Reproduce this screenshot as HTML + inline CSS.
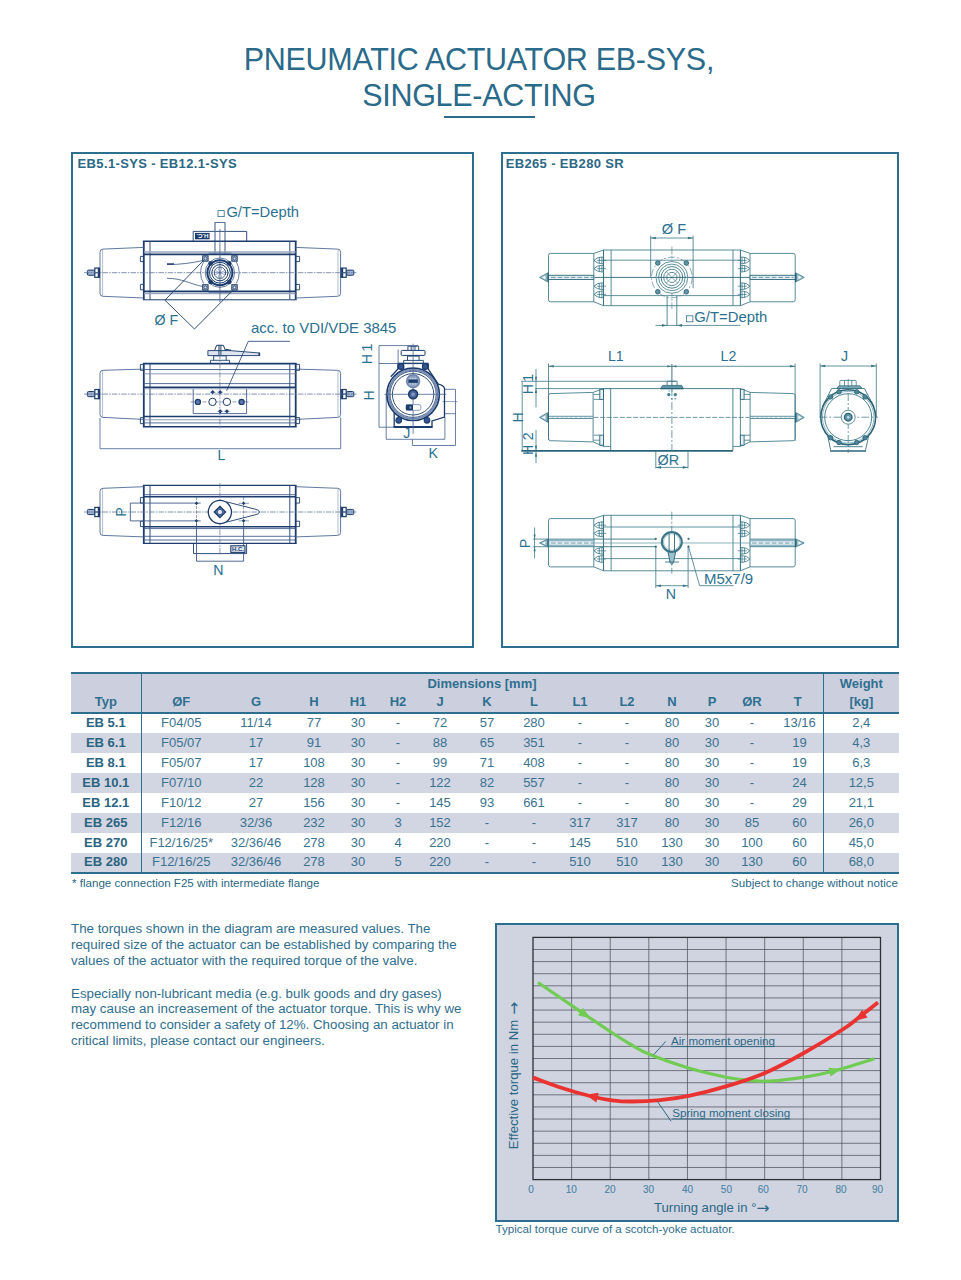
<!DOCTYPE html>
<html lang="en"><head><meta charset="utf-8"><title>Pneumatic actuator EB-SYS, single-acting</title>
<style>
*{box-sizing:border-box;margin:0;padding:0}
html,body{width:961px;height:1280px;background:#fff;overflow:hidden}
body{position:relative;font-family:"Liberation Sans",Arial,sans-serif;color:#2b6b8a}
.abs{position:absolute}
h1{position:absolute;left:-1.6px;top:40.5px;width:961px;text-align:center;font-weight:400;font-size:30.5px;line-height:36.5px;color:#2a6a8a;letter-spacing:-0.29px}
.rule{position:absolute;left:444px;top:116px;width:91px;height:2px;background:#2a6a8a}
.frame{position:absolute;border:2px solid #2d6f8f;top:152px;height:496px}
.frame .lbl{position:absolute;left:4.6px;top:1.5px;font-weight:700;font-size:13px;letter-spacing:.35px;line-height:15px;color:#2b6886;white-space:nowrap}
.frame svg{position:absolute;left:-2px;top:-2px}
table{position:absolute;left:71px;top:672px;width:828px;border-collapse:collapse;table-layout:fixed;font-size:13px;color:#3a7391}
table tr{height:20px}
table td,table th{line-height:16px;text-align:center;padding:0 0 .6px 0;white-space:nowrap;font-weight:400;overflow:visible;vertical-align:middle}
thead th{font-weight:700;color:#2f6f90;background:#ccd0de}
thead tr.r1 th{border-top:2px solid #2d6f8f;padding:0}
thead tr.r2 th{border-bottom:2px solid #2d6f8f;padding:0 0 .4px 0}
tbody tr:nth-child(even) td{background:#d2d5e2}
table tr>:nth-child(15){padding-left:3.6px}
tbody td:first-child{font-weight:700;color:#2b6481}
tbody tr:last-child td{border-bottom:2px solid #2d6f8f}
.vl{border-right:1.6px solid #2d6f8f}
.vr{border-left:1.6px solid #2d6f8f}
.note{position:absolute;font-size:11.6px;line-height:13px;top:875.8px;white-space:nowrap;color:#2b6886}
.para{position:absolute;left:71px;width:420px;font-size:13.325px;line-height:16px;color:#2f6e8d;white-space:nowrap}
.chart{position:absolute;left:495px;top:923px;width:404px;height:298.5px;border:2px solid #2d6f8f;background:#d0d4e1}
.chart svg{position:absolute;left:-2px;top:-2px}
.cap{position:absolute;left:495.5px;top:1222.2px;font-size:11.6px;line-height:13px;white-space:nowrap;color:#2f6e8d}
</style></head><body>
<h1>PNEUMATIC ACTUATOR EB-SYS,<br>SINGLE-ACTING</h1><div class="rule"></div>
<div class="frame" style="left:71px;width:403px"><div class="lbl">EB5.1-SYS - EB12.1-SYS</div>
<svg width="403" height="496" viewBox="71 152 403 496" font-family="Liberation Sans, Arial, sans-serif" fill="none" stroke-linecap="butt">
<path d="M193.2 241V231.4H246.7V241" stroke="#1b3c6c" stroke-width="0.9"/>
<path d="M215 253.5V222.5H225V253.5" stroke="#5b7299" stroke-width="1.2"/>
<rect x="195" y="232.9" width="14.6" height="6.4" fill="#1b3c6c" stroke="none"/>
<text transform="translate(208.6 233.9) rotate(180)" font-size="5.6" font-weight="700" fill="#fff" stroke="none" textLength="12.4" lengthAdjust="spacingAndGlyphs">H.C.</text>
<path d="M142.9 241.3H296.6" stroke="#1b3c6c" stroke-width="1.5"/>
<path d="M142.9 299.8H296.6" stroke="#1b3c6c" stroke-width="1.0"/>
<path d="M143.8 241.3V299.8M295.7 241.3V299.8" stroke="#1b3c6c" stroke-width="1.8"/>
<path d="M150 241.3V299.8M289.8 241.3V299.8" stroke="#2f4e84" stroke-width="1.0"/>
<path d="M143.8 247.4L103.0 249.1Q100 249.1 100 252.1V293.3Q100 296.3 103.0 296.3L143.8 298.0" stroke="#43608f" stroke-width="0.85"/>
<path d="M102.6 249.7V295.7" stroke="#7e90ad" stroke-width="0.6"/>
<path d="M295.7 247.4L337.6 249.1Q340.6 249.1 340.6 252.1V293.3Q340.6 296.3 337.6 296.3L295.7 298.0" stroke="#43608f" stroke-width="0.85"/>
<path d="M338 249.7V295.7" stroke="#7e90ad" stroke-width="0.6"/>
<path d="M143.8 256.4H140.4V261.6H143.8M295.7 256.4H299.6V261.6H295.7" stroke="#1b3c6c" stroke-width="0.9"/>
<path d="M143.8 284.4H140.4V289.8H143.8M295.7 284.4H299.6V289.8H295.7" stroke="#1b3c6c" stroke-width="0.9"/>
<rect x="87.4" y="270.1" width="7.2" height="5.2" rx="1.2" fill="#9db0cf" stroke="#1b3c6c" stroke-width="1"/>
<rect x="94.8" y="268.1" width="3.6" height="9.2" fill="#fff" stroke="#1b3c6c" stroke-width="1.2"/>
<path d="M94.8 272.7h3.6" stroke="#1b3c6c" stroke-width="1.1"/>
<path d="M99.3 267.5V277.9" stroke="#1b3c6c" stroke-width="1.5"/>
<rect x="346.6" y="270.1" width="7.2" height="5.2" rx="1.2" fill="#9db0cf" stroke="#1b3c6c" stroke-width="1"/>
<rect x="342.6" y="268.1" width="3.6" height="9.2" fill="#fff" stroke="#1b3c6c" stroke-width="1.2"/>
<path d="M342.6 272.7h3.6" stroke="#1b3c6c" stroke-width="1.1"/>
<path d="M341.2 267.5V277.9" stroke="#1b3c6c" stroke-width="1.5"/>
<path d="M84 272.7H356.5" stroke="#5d7094" stroke-width="0.75" stroke-dasharray="5.5 1.1 1.6 1.1"/>
<path d="M144 251.9H295.5M144 293.4H295.5" stroke="#9ba6bd" stroke-width="1.5"/>
<path d="M144 254.4H295.5M144 291.4H295.5" stroke="#1b3c6c" stroke-width="1.6"/>
<path d="M219.9 229V302" stroke="#43608f" stroke-width="0.8"/>
<path d="M208.5 253.2H231.3M208.5 292.3H231.3" stroke="#43608f" stroke-width="0.8"/>
<path d="M203.6 261.8A21 21 0 0 0 203.6 283.6M236.2 261.8A21 21 0 0 1 236.2 283.6" stroke="#43608f" stroke-width="0.8"/>
<rect x="202.8" y="255.9" width="5.2" height="5.2" stroke="#1b3c6c" stroke-width="1.2" fill="#fff"/>
<circle cx="205.4" cy="258.5" r="1.5" stroke="#1b3c6c" stroke-width="0.9" fill="#dbe2ef"/>
<rect x="231.9" y="255.9" width="5.2" height="5.2" stroke="#1b3c6c" stroke-width="1.2" fill="#fff"/>
<circle cx="234.5" cy="258.5" r="1.5" stroke="#1b3c6c" stroke-width="0.9" fill="#dbe2ef"/>
<rect x="202.8" y="284.8" width="5.2" height="5.2" stroke="#1b3c6c" stroke-width="1.2" fill="#fff"/>
<circle cx="205.4" cy="287.4" r="1.5" stroke="#1b3c6c" stroke-width="0.9" fill="#dbe2ef"/>
<rect x="231.9" y="284.8" width="5.2" height="5.2" stroke="#1b3c6c" stroke-width="1.2" fill="#fff"/>
<circle cx="234.5" cy="287.4" r="1.5" stroke="#1b3c6c" stroke-width="0.9" fill="#dbe2ef"/>
<circle cx="219.9" cy="272.7" r="14.7" stroke="#43608f" stroke-width="0.8"/>
<circle cx="219.9" cy="272.7" r="12.5" stroke="#1b3c6c" stroke-width="2"/>
<circle cx="219.9" cy="272.7" r="10.4" stroke="#1b3c6c" stroke-width="1"/>
<circle cx="219.9" cy="272.7" r="8.1" stroke="#1b3c6c" stroke-width="1"/>
<polygon points="225.4,275.0 222.2,278.2 217.6,278.2 214.4,275.0 214.4,270.4 217.6,267.2 222.2,267.2 225.4,270.4" stroke="#1b3c6c" stroke-width="0.8"/>
<path d="M214.8 270.6L225.0 274.8M217.8 267.6L222.0 277.8M222.0 267.6L217.8 277.8M225.0 270.6L214.8 274.8" stroke="#43608f" stroke-width="0.5"/>
<circle cx="229.2" cy="282.0" r="2.3" fill="#1b3c6c" stroke="none"/>
<circle cx="210.6" cy="282.0" r="2.3" fill="#1b3c6c" stroke="none"/>
<circle cx="210.6" cy="263.4" r="2.3" fill="#1b3c6c" stroke="none"/>
<circle cx="229.2" cy="263.4" r="2.3" fill="#1b3c6c" stroke="none"/>
<path d="M203.4 260.6L164.9 300.2L194.5 329L232.5 290.6" stroke="#1b3c6c" stroke-width="0.9"/>
<path d="M167 264.6C180 264.6 192 263 203 260.5M167 278.3C182 278.3 190 284 203 286.6" stroke="#1b3c6c" stroke-width="0.7"/>
<path d="M167 264H174" stroke="#1b3c6c" stroke-width="1.4"/>
<path d="M210.4 363.4V360.3H229.6V363.4M213.7 360.3V355.4H226.2V360.3" stroke="#1b3c6c" stroke-width="0.9"/>
<path d="M214 355.6H226" stroke="#1b3c6c" stroke-width="1.3"/>
<path d="M207.9 350.6H230L259.6 353V355.6H207.9Z" fill="#dfe5f0" stroke="#1b3c6c" stroke-width="0.9"/>
<path d="M259.3 352.6V356" stroke="#1b3c6c" stroke-width="1.6"/>
<path d="M214.6 350.5L216.6 345.3H223.4L225.4 350.5" stroke="#1b3c6c" stroke-width="1.0"/>
<path d="M218.9 345V355M220.9 345V355" stroke="#1b3c6c" stroke-width="0.9"/>
<path d="M225.4 349.4L231 350.4" stroke="#1b3c6c" stroke-width="1.4"/>
<path d="M142.9 363.6H296.6" stroke="#1b3c6c" stroke-width="1.6"/>
<path d="M142.9 426.8H296.6" stroke="#1b3c6c" stroke-width="1.6"/>
<path d="M143.8 363.6V426.8M295.7 363.6V426.8" stroke="#1b3c6c" stroke-width="1.8"/>
<path d="M150 363.6V426.8M289.8 363.6V426.8" stroke="#2f4e84" stroke-width="1.0"/>
<path d="M143.8 369.1L103.0 370.3Q100 370.3 100 373.3V414.4Q100 417.4 103.0 417.4L143.8 419.4" stroke="#43608f" stroke-width="0.85"/>
<path d="M102.6 370.9V416.8" stroke="#7e90ad" stroke-width="0.6"/>
<path d="M295.7 369.1L337.6 370.3Q340.6 370.3 340.6 373.3V414.4Q340.6 417.4 337.6 417.4L295.7 419.4" stroke="#43608f" stroke-width="0.85"/>
<path d="M338 370.9V416.8" stroke="#7e90ad" stroke-width="0.6"/>
<path d="M143.8 364.4H140.4V370.3H143.8M295.7 364.4H299.6V370.3H295.7" stroke="#1b3c6c" stroke-width="0.9"/>
<path d="M143.8 417.6H140.4V423.6H143.8M295.7 417.6H299.6V423.6H295.7" stroke="#1b3c6c" stroke-width="0.9"/>
<rect x="87.4" y="391.5" width="7.2" height="5.2" rx="1.2" fill="#9db0cf" stroke="#1b3c6c" stroke-width="1"/>
<rect x="94.8" y="389.5" width="3.6" height="9.2" fill="#fff" stroke="#1b3c6c" stroke-width="1.2"/>
<path d="M94.8 394.1h3.6" stroke="#1b3c6c" stroke-width="1.1"/>
<path d="M99.3 388.9V399.3" stroke="#1b3c6c" stroke-width="1.5"/>
<rect x="346.6" y="391.5" width="7.2" height="5.2" rx="1.2" fill="#9db0cf" stroke="#1b3c6c" stroke-width="1"/>
<rect x="342.6" y="389.5" width="3.6" height="9.2" fill="#fff" stroke="#1b3c6c" stroke-width="1.2"/>
<path d="M342.6 394.1h3.6" stroke="#1b3c6c" stroke-width="1.1"/>
<path d="M341.2 388.9V399.3" stroke="#1b3c6c" stroke-width="1.5"/>
<path d="M84 394.1H356.5" stroke="#5d7094" stroke-width="0.75" stroke-dasharray="5.5 1.1 1.6 1.1"/>
<path d="M144 369.5H295.5M144 383.6H295.5M144 422.9H295.5" stroke="#43608f" stroke-width="0.9"/>
<path d="M144 373.8H295.5M144 419.8H295.5" stroke="#7e90ad" stroke-width="0.9"/>
<path d="M144 388.9H295.5" stroke="#9ba6bd" stroke-width="0.7"/>
<path d="M144 387.3H295.5" stroke="#1b3c6c" stroke-width="1.8"/>
<path d="M144 416.6H295.5" stroke="#1b3c6c" stroke-width="1.5"/>
<path d="M219.9 344.5V428.5" stroke="#5d7094" stroke-width="0.7" stroke-dasharray="5.5 1.1 1.6 1.1"/>
<path d="M193.2 389.1V413.6H246.6V389.1" stroke="#43608f" stroke-width="0.9"/>
<path d="M190.5 401.9H250" stroke="#43608f" stroke-width="0.6" stroke-dasharray="4 2"/>
<circle cx="197.9" cy="401.9" r="2.6" fill="#5d78ad" stroke="#1b3c6c" stroke-width="1.2"/>
<circle cx="241.6" cy="401.9" r="2.6" fill="#5d78ad" stroke="#1b3c6c" stroke-width="1.2"/>
<circle cx="212.5" cy="401.9" r="3.7" fill="#fff" stroke="#1b3c6c" stroke-width="1"/>
<circle cx="226.9" cy="401.9" r="3.7" fill="#fff" stroke="#1b3c6c" stroke-width="1"/>
<path d="M212.7 390.1l2.1 2.1l-2.1 2.1l-2.1 -2.1Z" fill="#1b3c6c" stroke="none"/>
<path d="M209.7 392.2h6" stroke="#43608f" stroke-width="0.5"/>
<path d="M220.2 390.1l2.1 2.1l-2.1 2.1l-2.1 -2.1Z" fill="#1b3c6c" stroke="none"/>
<path d="M217.2 392.2h6" stroke="#43608f" stroke-width="0.5"/>
<path d="M220.2 409.2l2.1 2.1l-2.1 2.1l-2.1 -2.1Z" fill="#1b3c6c" stroke="none"/>
<path d="M217.2 411.3h6" stroke="#43608f" stroke-width="0.5"/>
<path d="M226.9 409.2l2.1 2.1l-2.1 2.1l-2.1 -2.1Z" fill="#1b3c6c" stroke="none"/>
<path d="M223.9 411.3h6" stroke="#43608f" stroke-width="0.5"/>
<path d="M226.6 390.8L248.3 341.3H289.9" stroke="#1b3c6c" stroke-width="0.8"/>
<path d="M100 418V448.7H340.7V417.5" stroke="#43608f" stroke-width="0.8"/>
<path d="M193.5 543.3V553.6H246.6V543.3" stroke="#1b3c6c" stroke-width="0.9"/>
<path d="M142.9 485.4H296.6" stroke="#1b3c6c" stroke-width="1.2"/>
<path d="M142.9 543.4H296.6" stroke="#1b3c6c" stroke-width="1.3"/>
<path d="M143.8 485.4V543.4M295.7 485.4V543.4" stroke="#1b3c6c" stroke-width="1.8"/>
<path d="M150 485.4V543.4M289.8 485.4V543.4" stroke="#2f4e84" stroke-width="1.0"/>
<path d="M143.8 486.7L103.0 488.3Q100 488.3 100 491.3V532.4Q100 535.4 103.0 535.4L143.8 536.9" stroke="#43608f" stroke-width="0.85"/>
<path d="M102.6 488.9V534.8" stroke="#7e90ad" stroke-width="0.6"/>
<path d="M295.7 486.7L337.6 488.3Q340.6 488.3 340.6 491.3V532.4Q340.6 535.4 337.6 535.4L295.7 536.9" stroke="#43608f" stroke-width="0.85"/>
<path d="M338 488.9V534.8" stroke="#7e90ad" stroke-width="0.6"/>
<path d="M143.8 497.6H140.4V503.1H143.8M295.7 497.6H299.6V503.1H295.7" stroke="#1b3c6c" stroke-width="0.9"/>
<path d="M143.8 521.2H140.4V526.6H143.8M295.7 521.2H299.6V526.6H295.7" stroke="#1b3c6c" stroke-width="0.9"/>
<rect x="87.4" y="509.4" width="7.2" height="5.2" rx="1.2" fill="#9db0cf" stroke="#1b3c6c" stroke-width="1"/>
<rect x="94.8" y="507.4" width="3.6" height="9.2" fill="#fff" stroke="#1b3c6c" stroke-width="1.2"/>
<path d="M94.8 512.0h3.6" stroke="#1b3c6c" stroke-width="1.1"/>
<path d="M99.3 506.8V517.2" stroke="#1b3c6c" stroke-width="1.5"/>
<rect x="346.6" y="509.4" width="7.2" height="5.2" rx="1.2" fill="#9db0cf" stroke="#1b3c6c" stroke-width="1"/>
<rect x="342.6" y="507.4" width="3.6" height="9.2" fill="#fff" stroke="#1b3c6c" stroke-width="1.2"/>
<path d="M342.6 512.0h3.6" stroke="#1b3c6c" stroke-width="1.1"/>
<path d="M341.2 506.8V517.2" stroke="#1b3c6c" stroke-width="1.5"/>
<path d="M84 512.0H356.5" stroke="#5d7094" stroke-width="0.75" stroke-dasharray="5.5 1.1 1.6 1.1"/>
<path d="M144 494.7H295.5M144 528.6H295.5M144 536.3H295.5M144 540H295.5" stroke="#43608f" stroke-width="0.9"/>
<path d="M144 496.7H295.5M144 526.7H295.5" stroke="#1b3c6c" stroke-width="1.6"/>
<path d="M219.9 483V555" stroke="#5d7094" stroke-width="0.7" stroke-dasharray="5.5 1.1 1.6 1.1"/>
<path d="M200.7 503.1H130.3V520.9H200.7" stroke="#3f5a88" stroke-width="0.9"/>
<path d="M243.6 503.3H249M243.6 520.8H249M238.5 503.3H243M238.5 520.8H243" stroke="#43608f" stroke-width="0.6"/>
<path d="M196.5 497V523M243.6 497V523" stroke="#43608f" stroke-width="0.6" stroke-dasharray="3 1.5"/>
<path d="M196.5 523V561.2H243.6V523" stroke="#3f5a88" stroke-width="0.9"/>
<path d="M196.5 501.4l1.7 1.9l-1.7 1.9l-1.7 -1.9Z" fill="#1b3c6c" stroke="none"/>
<path d="M196.5 518.9l1.7 1.9l-1.7 1.9l-1.7 -1.9Z" fill="#1b3c6c" stroke="none"/>
<path d="M243.6 501.4l1.7 1.9l-1.7 1.9l-1.7 -1.9Z" fill="#1b3c6c" stroke="none"/>
<path d="M243.6 518.9l1.7 1.9l-1.7 1.9l-1.7 -1.9Z" fill="#1b3c6c" stroke="none"/>
<path d="M226.4 501.8L254.9 509.1Q259.6 510 259.6 512Q259.6 514 254.9 514.9L226.4 522.2" stroke="#1b3c6c" stroke-width="0.9"/>
<circle cx="219.9" cy="512" r="11.6" fill="#fff" stroke="#1b3c6c" stroke-width="1.3"/>
<path d="M219.9 506.3L225.6 512L219.9 517.7L214.2 512Z" fill="#5d78ad" stroke="#1b3c6c" stroke-width="1.3"/>
<circle cx="219.9" cy="512" r="2.7" fill="#dfe6f2" stroke="#1b3c6c" stroke-width="0.8"/>
<rect x="230.8" y="545.8" width="14.2" height="6.6" fill="#dfe5f0" stroke="#1b3c6c" stroke-width="1.1"/>
<text x="232" y="551.4" font-size="5.6" font-weight="700" fill="#1b3c6c" stroke="none" textLength="11.8" lengthAdjust="spacingAndGlyphs">H.C.</text>
<path d="M379 345.6V427.2M379 345.6H418M379 363.5H400M379 427.2H395M398.1 349.4V363.5" stroke="#43608f" stroke-width="0.8"/>
<path d="M386.2 394.3V439.3H444.9V417M412.4 439.5V445.5H455.5V389.3H444.9M444.9 413.7H455.5" stroke="#43608f" stroke-width="0.8"/>
<path d="M442.5 401.6H457.5" stroke="#43608f" stroke-width="0.6"/>
<path d="M403.7 363.3V360.4H423.3V363.3M407.5 360.4V355.6H419.1V360.4" stroke="#1b3c6c" stroke-width="0.9"/>
<path d="M407.8 355.9H418.8" stroke="#1b3c6c" stroke-width="1.3"/>
<rect x="401.2" y="350.4" width="23.8" height="5" rx="1" stroke="#1b3c6c" stroke-width="1" fill="#fff"/>
<path d="M407.9 350.4V346.2H411.2V350.4M415 350.4V346.2H418.7V350.4M411.2 346.4H415" stroke="#1b3c6c" stroke-width="0.9"/>
<path d="M397.9 363.4H428.3" stroke="#1b3c6c" stroke-width="1.4"/>
<path d="M397.9 363.4L397.9 369L390.8 376.8M428.3 363.4V369L438.3 384.1Q443.6 385.2 444.5 388.4V417L432 421V427M394.2 413V427" stroke="#1b3c6c" stroke-width="1.3"/>
<path d="M393.6 427H432.6" stroke="#1b3c6c" stroke-width="1.8"/>
<path d="M397.9 363.6H404.2V369.2H397.9ZM422.4 363.6H428.3V369.2H422.4Z" fill="#2c4c84" stroke="none"/>
<circle cx="413.1" cy="394.3" r="26.2" stroke="#1b3c6c" stroke-width="1.7" fill="#fff"/>
<circle cx="413.1" cy="394.3" r="24.5" stroke="#748bb3" stroke-width="1.9"/>
<circle cx="413.1" cy="394.3" r="23.1" stroke="#1b3c6c" stroke-width="0.8"/>
<circle cx="413.1" cy="394.3" r="20.7" stroke="#1b3c6c" stroke-width="0.9"/>
<circle cx="401.0" cy="366.6" r="2.8" fill="#34558f" stroke="#1b3c6c" stroke-width="1.1"/>
<circle cx="425.2" cy="366.6" r="2.8" fill="#34558f" stroke="#1b3c6c" stroke-width="1.1"/>
<circle cx="398.7" cy="420.3" r="2.8" fill="#34558f" stroke="#1b3c6c" stroke-width="1.1"/>
<circle cx="427.0" cy="420.3" r="2.8" fill="#34558f" stroke="#1b3c6c" stroke-width="1.1"/>
<path d="M413.1 343.7V433.7" stroke="#4a6491" stroke-width="0.8"/>
<path d="M384.3 394.3H446.2" stroke="#4a6491" stroke-width="0.8"/>
<circle cx="413.1" cy="381.2" r="6.5" fill="#8ea1c4" stroke="#6d84ad" stroke-width="1.4"/>
<path d="M408.4 379.6h9.4v3.2h-9.4Z" fill="#1b3c6c" stroke="none"/>
<path d="M409.4 378.4h7.4M409.4 384h7.4" stroke="#e8edf6" stroke-width="0.8" stroke-dasharray="1.6 1"/>
<circle cx="413.1" cy="394.3" r="4.4" fill="#4a6598" stroke="#1b3c6c" stroke-width="1.6"/>
<circle cx="413.1" cy="394.3" r="1.9" fill="#8196bd" stroke="none"/>
<rect x="406" y="404.6" width="14.8" height="5.7" rx="1.8" fill="#fff" stroke="#7d92b8" stroke-width="0.9"/>
<rect x="406" y="404.6" width="7" height="5.7" fill="#1b3c6c" stroke="none"/>
<rect x="409.4" y="406.4" width="2" height="2.2" fill="#7d92b8" stroke="none"/>
<g fill="#2b7090" stroke="none" font-size="14.2">
<rect x="218" y="210.6" width="6.2" height="6" fill="none" stroke="#2b7090" stroke-width="0.8"/>
<text x="226.4" y="216.6" textLength="72.6" lengthAdjust="spacingAndGlyphs">G/T=Depth</text>
<text x="154.6" y="325.2" textLength="23.6" lengthAdjust="spacingAndGlyphs">Ø F</text>
<text x="251" y="332.9" textLength="145.4" lengthAdjust="spacingAndGlyphs">acc. to VDI/VDE 3845</text>
<text x="217.4" y="460.2">L</text>
<text x="213.2" y="575.2">N</text>
<text transform="translate(125.8 516.7) rotate(-90)">P</text>
<text transform="translate(371.9 364.2) rotate(-90)" textLength="20.6" lengthAdjust="spacing">H 1</text>
<text transform="translate(373.7 400.6) rotate(-90)">H</text>
<text x="403.2" y="438">J</text>
<text x="428.6" y="458">K</text>
</g>
</svg>
</div>
<div class="frame" style="left:500.5px;width:398.5px"><div class="lbl" style="left:3.2px">EB265 - EB280 SR</div>
<svg width="398.5" height="496" viewBox="500.5 152 398.5 496" font-family="Liberation Sans, Arial, sans-serif" fill="none" stroke-linecap="butt" stroke-linejoin="miter">
<path d="M593.3 253.4H550.0Q548 253.4 548 255.4V299.8Q548 301.8 550.0 301.8H593.3Z" stroke="#3a7688" stroke-width="0.85"/>
<path d="M749.5 253.4H792.7Q794.7 253.4 794.7 255.4V299.8Q794.7 301.8 792.7 301.8H749.5Z" stroke="#3a7688" stroke-width="0.85"/>
<path d="M593.3 253.4L603 250.0H739.9L749.5 253.4M593.3 301.8L603 305.7H739.9L749.5 301.8" stroke="#3a7688" stroke-width="0.85"/>
<path d="M603 250.0V305.7M739.9 250.0V305.7" stroke="#3a7688" stroke-width="1.1"/>
<path d="M610.6 250.0V305.7M732.5 250.0V305.7" stroke="#3a7688" stroke-width="0.85"/>
<path d="M603 260.2H739.9" stroke="#3a7688" stroke-width="0.8"/>
<path d="M603 295.6H739.9" stroke="#3a7688" stroke-width="0.8"/>
<path d="M603.0 257.1H600.8Q596.5 257.3 593.5 260.4Q596.5 263.5 600.8 263.7H603.0" stroke="#3a7688" stroke-width="0.85"/>
<path d="M601.4 257.1V263.7M598.8 257.5V263.3" stroke="#3a7688" stroke-width="0.8"/>
<path d="M596.6 260.4H605.6" stroke="#3a7688" stroke-width="0.7"/>
<path d="M739.9 257.1H742.1Q746.4 257.3 749.4 260.4Q746.4 263.5 742.1 263.7H739.9" stroke="#3a7688" stroke-width="0.85"/>
<path d="M741.5 257.1V263.7M744.1 257.5V263.3" stroke="#3a7688" stroke-width="0.8"/>
<path d="M746.3 260.4H737.3" stroke="#3a7688" stroke-width="0.7"/>
<path d="M603.0 265.3H600.8Q596.5 265.5 593.5 268.6Q596.5 271.7 600.8 271.9H603.0" stroke="#3a7688" stroke-width="0.85"/>
<path d="M601.4 265.3V271.9M598.8 265.7V271.5" stroke="#3a7688" stroke-width="0.8"/>
<path d="M596.6 268.6H605.6" stroke="#3a7688" stroke-width="0.7"/>
<path d="M739.9 265.3H742.1Q746.4 265.5 749.4 268.6Q746.4 271.7 742.1 271.9H739.9" stroke="#3a7688" stroke-width="0.85"/>
<path d="M741.5 265.3V271.9M744.1 265.7V271.5" stroke="#3a7688" stroke-width="0.8"/>
<path d="M746.3 268.6H737.3" stroke="#3a7688" stroke-width="0.7"/>
<path d="M603.0 282.9H600.8Q596.5 283.1 593.5 286.2Q596.5 289.3 600.8 289.5H603.0" stroke="#3a7688" stroke-width="0.85"/>
<path d="M601.4 282.9V289.5M598.8 283.3V289.1" stroke="#3a7688" stroke-width="0.8"/>
<path d="M596.6 286.2H605.6" stroke="#3a7688" stroke-width="0.7"/>
<path d="M739.9 282.9H742.1Q746.4 283.1 749.4 286.2Q746.4 289.3 742.1 289.5H739.9" stroke="#3a7688" stroke-width="0.85"/>
<path d="M741.5 282.9V289.5M744.1 283.3V289.1" stroke="#3a7688" stroke-width="0.8"/>
<path d="M746.3 286.2H737.3" stroke="#3a7688" stroke-width="0.7"/>
<path d="M603.0 291.1H600.8Q596.5 291.3 593.5 294.4Q596.5 297.5 600.8 297.7H603.0" stroke="#3a7688" stroke-width="0.85"/>
<path d="M601.4 291.1V297.7M598.8 291.5V297.3" stroke="#3a7688" stroke-width="0.8"/>
<path d="M596.6 294.4H605.6" stroke="#3a7688" stroke-width="0.7"/>
<path d="M739.9 291.1H742.1Q746.4 291.3 749.4 294.4Q746.4 297.5 742.1 297.7H739.9" stroke="#3a7688" stroke-width="0.85"/>
<path d="M741.5 291.1V297.7M744.1 291.5V297.3" stroke="#3a7688" stroke-width="0.8"/>
<path d="M746.3 294.4H737.3" stroke="#3a7688" stroke-width="0.7"/>
<path d="M548 275.3H593.3V279.5H548ZM749.5 275.3H794.7V279.5H749.5Z" fill="#e4eef2" stroke="#2b6478" stroke-width="0.9"/>
<path d="M550.5 277.4H593M751.5 277.4H793" stroke="#4f8799" stroke-width="0.8" stroke-dasharray="4.6 2"/>
<path d="M539.0 277.4L546.8 273.2V281.6Z" fill="#9cc0cb" stroke="none"/>
<path d="M539.0 277.4L546.8 273.2V281.6Z" stroke="#3a7688" stroke-width="0.8"/>
<path d="M547.6 272.6V282.2" stroke="#2b6478" stroke-width="1.3"/>
<path d="M541.5 277.4L544.8 275.8V279.0Z" fill="#fff" stroke="none"/>
<path d="M803.7 277.4L795.9 273.2V281.6Z" fill="#9cc0cb" stroke="none"/>
<path d="M803.7 277.4L795.9 273.2V281.6Z" stroke="#3a7688" stroke-width="0.8"/>
<path d="M795.1 272.6V282.2" stroke="#2b6478" stroke-width="1.3"/>
<path d="M801.2 277.4L797.9 275.8V279.0Z" fill="#fff" stroke="none"/>
<path d="M594 277.4H749" stroke="#2b6478" stroke-width="0.9"/>
<path d="M666.6 296V325.8M676.3 296V325.8" stroke="#3a7688" stroke-width="0.85"/>
<path d="M671.4 246.5V309" stroke="#3a7688" stroke-width="0.6" stroke-dasharray="8 2 2 2"/>
<circle cx="671.4" cy="277.4" r="20.3" stroke="#3a7688" stroke-width="0.6" stroke-dasharray="7 2 2 2"/>
<circle cx="671.4" cy="277.4" r="15.9" stroke="#3a7688" stroke-width="0.8" fill="#fff"/>
<circle cx="671.4" cy="277.4" r="13.3" stroke="#3a7688" stroke-width="0.8" fill="none"/>
<circle cx="671.4" cy="277.4" r="10.8" stroke="#3a7688" stroke-width="0.9" fill="none"/>
<circle cx="671.4" cy="277.4" r="8.2" stroke="#3a7688" stroke-width="0.8" fill="none"/>
<polygon points="676.3,279.4 673.4,282.3 669.4,282.3 666.5,279.4 666.5,275.4 669.4,272.5 673.4,272.5 676.3,275.4" stroke="#3a7688" stroke-width="0.8"/>
<path d="M665.7 271.7L677.1 283.1M677.1 271.7L665.7 283.1" stroke="#3a7688" stroke-width="0.6"/>
<path d="M656 277.4H687" stroke="#2b6478" stroke-width="0.9"/>
<circle cx="657.3" cy="263.0" r="2.3" fill="#5f95a6" stroke="#2b6478" stroke-width="0.9"/>
<circle cx="685.8" cy="263.0" r="2.3" fill="#5f95a6" stroke="#2b6478" stroke-width="0.9"/>
<circle cx="657.3" cy="291.8" r="2.3" fill="#5f95a6" stroke="#2b6478" stroke-width="0.9"/>
<circle cx="685.8" cy="291.8" r="2.3" fill="#5f95a6" stroke="#2b6478" stroke-width="0.9"/>
<path d="M650.2 238H692.6M650.2 235.5V277M692.6 235.5V288" stroke="#3a7688" stroke-width="0.8"/>
<path d="M650.2 238.0L655.4 236.7L655.4 239.3Z" fill="#3a7688" stroke="none"/>
<path d="M692.6 238.0L687.4 239.3L687.4 236.7Z" fill="#3a7688" stroke="none"/>
<path d="M655 325.4H739.9" stroke="#3a7688" stroke-width="0.8"/>
<path d="M666.6 325.4L661.4 326.7L661.4 324.1Z" fill="#3a7688" stroke="none"/>
<path d="M676.3 325.4L681.5 324.1L681.5 326.7Z" fill="#3a7688" stroke="none"/>
<path d="M548 366.3H794.6M548 363.5V440M794.6 363.5V441" stroke="#3a7688" stroke-width="0.8"/>
<path d="M548.0 366.3L553.2 365.0L553.2 367.6Z" fill="#3a7688" stroke="none"/>
<path d="M794.6 366.3L789.4 367.6L789.4 365.0Z" fill="#3a7688" stroke="none"/>
<path d="M670.9 366.3L666.9 367.4L666.9 365.2Z" fill="#3a7688" stroke="none"/>
<path d="M671.9 366.3L675.9 365.2L675.9 367.4Z" fill="#3a7688" stroke="none"/>
<path d="M520.8 381.3H675.8M535 388.6H610" stroke="#3a7688" stroke-width="0.8"/>
<path d="M521.7 381.3V450.7M535.5 369V407.5M535.5 430V463.2" stroke="#3a7688" stroke-width="0.8"/>
<path d="M535.5 381.3L534.4 376.8L536.6 376.8Z" fill="#3a7688" stroke="none"/>
<path d="M535.5 388.6L536.6 393.1L534.4 393.1Z" fill="#3a7688" stroke="none"/>
<path d="M535.5 450.2L534.4 445.7L536.6 445.7Z" fill="#3a7688" stroke="none"/>
<path d="M535.5 452.2L536.6 456.7L534.4 456.7Z" fill="#3a7688" stroke="none"/>
<path d="M592.4 392.4L550 393.6Q548 393.6 548 395.6V438.7Q548 440.7 550 440.7L592.4 441.9" stroke="#3a7688" stroke-width="0.85"/>
<path d="M749.6 392.4L792.7 393.6Q794.7 393.6 794.7 395.6V438.7Q794.7 440.7 792.7 440.7L749.6 441.9" stroke="#3a7688" stroke-width="0.85"/>
<path d="M610.2 388.6H603L592.6 392.4V441.9L603 446.4H610.2M603 388.6V446.4M732.4 388.6H739.9L749.6 392.4V441.9L739.9 446.4H732.4M739.9 388.6V446.4" stroke="#3a7688" stroke-width="0.85"/>
<path d="M610.2 388.6H732.4M610.2 388.6V450.7M732.4 388.6V450.7" stroke="#3a7688" stroke-width="0.9"/>
<path d="M520.8 450.9H732.4" stroke="#2b6478" stroke-width="1.7"/>
<rect x="599.3" y="389.3" width="3.7" height="10.1" fill="#e6f0f4" stroke="#2b6478" stroke-width="0.9"/>
<path d="M599.3 394.4H593.2M599.3 399.4H593.2" stroke="#3a7688" stroke-width="0.8"/>
<rect x="599.3" y="435.2" width="3.7" height="10.0" fill="#e6f0f4" stroke="#2b6478" stroke-width="0.9"/>
<path d="M599.3 440.2H593.2M599.3 435.2H593.2" stroke="#3a7688" stroke-width="0.8"/>
<rect x="739.9" y="389.3" width="3.7" height="10.1" fill="#e6f0f4" stroke="#2b6478" stroke-width="0.9"/>
<path d="M743.6 394.4H749.7M743.6 399.4H749.7" stroke="#3a7688" stroke-width="0.8"/>
<rect x="739.9" y="435.2" width="3.7" height="10.0" fill="#e6f0f4" stroke="#2b6478" stroke-width="0.9"/>
<path d="M743.6 440.2H749.7M743.6 435.2H749.7" stroke="#3a7688" stroke-width="0.8"/>
<path d="M548 416.3H592.4M548 418.5H592.4M749.6 416.3H794.7M749.6 418.5H794.7" stroke="#3a7688" stroke-width="0.8"/>
<path d="M551 417.4H592M751 417.4H793" stroke="#9fc0c8" stroke-width="0.6" stroke-dasharray="3 1.6"/>
<path d="M539.0 417.4L546.8 412.8V422.0Z" fill="#9cc0cb" stroke="none"/>
<path d="M539.0 417.4L546.8 412.8V422.0Z" stroke="#3a7688" stroke-width="0.8"/>
<path d="M547.6 412.4V422.4" stroke="#2b6478" stroke-width="1.2"/>
<path d="M541.5 417.4L544.8 415.7V419.1Z" fill="#fff" stroke="none"/>
<path d="M803.7 417.4L795.9 412.8V422.0Z" fill="#9cc0cb" stroke="none"/>
<path d="M803.7 417.4L795.9 412.8V422.0Z" stroke="#3a7688" stroke-width="0.8"/>
<path d="M795.1 412.4V422.4" stroke="#2b6478" stroke-width="1.2"/>
<path d="M801.2 417.4L797.9 415.7V419.1Z" fill="#fff" stroke="none"/>
<path d="M593 417.4H749" stroke="#3a7688" stroke-width="0.75" stroke-dasharray="5 1.6"/>
<path d="M671.4 364V388" stroke="#2b6478" stroke-width="0.9"/>
<path d="M671.4 388V451" stroke="#3a7688" stroke-width="0.7" stroke-dasharray="8 2 2 2"/>
<path d="M666.6 385.4V381.2H676.6V385.4" stroke="#3a7688" stroke-width="0.85"/>
<path d="M662.1 385.4H681.2L682.9 388.6H660Z" fill="#5f97a8" stroke="#2b6478" stroke-width="0.8"/>
<path d="M660 388.6H682.9" stroke="#2b6478" stroke-width="1.2"/>
<circle cx="668.3" cy="394.6" r="1.7" fill="#3f7d90" stroke="none"/>
<circle cx="674.8" cy="394.6" r="1.7" fill="#3f7d90" stroke="none"/>
<circle cx="668.7" cy="390.9" r="0.6" fill="#3f7d90" stroke="none"/>
<circle cx="671.5" cy="390.9" r="0.6" fill="#3f7d90" stroke="none"/>
<circle cx="671.4" cy="398.7" r="0.7" fill="#3f7d90" stroke="none"/>
<circle cx="674.6" cy="398.7" r="0.7" fill="#3f7d90" stroke="none"/>
<path d="M655.3 451V468.4M687.5 451V468.4M655.3 467.4H687.5" stroke="#3a7688" stroke-width="0.8"/>
<path d="M655.3 467.4L660.5 466.1L660.5 468.7Z" fill="#3a7688" stroke="none"/>
<path d="M687.5 467.4L682.3 468.7L682.3 466.1Z" fill="#3a7688" stroke="none"/>
<path d="M819.6 366H875.8M819.6 363.5V417M875.8 363.5V417" stroke="#3a7688" stroke-width="0.8"/>
<path d="M819.6 366.0L824.8 364.7L824.8 367.3Z" fill="#3a7688" stroke="none"/>
<path d="M875.8 366.0L870.6 367.3L870.6 364.7Z" fill="#3a7688" stroke="none"/>
<path d="M822 406.4L831.2 388.4H863.9L873.4 406.4M827.2 436L830.2 450.3M868.2 436L865 450.3M833 446.7H862.2" stroke="#3a7688" stroke-width="0.9"/>
<path d="M829.6 451H865.6" stroke="#2b6478" stroke-width="1.6"/>
<circle cx="847.7" cy="417.2" r="27.4" stroke="#2b6478" stroke-width="1.6" fill="#fff"/>
<circle cx="847.7" cy="417.2" r="25.8" stroke="#8fb6c2" stroke-width="1"/>
<circle cx="847.7" cy="417.2" r="23.5" stroke="#3a7688" stroke-width="0.9"/>
<circle cx="838.5" cy="391.8" r="2.2" fill="#4f8799" stroke="#2b6478" stroke-width="0.9"/>
<circle cx="856.2" cy="391.8" r="2.2" fill="#4f8799" stroke="#2b6478" stroke-width="0.9"/>
<circle cx="830.2" cy="396.9" r="2.2" fill="#4f8799" stroke="#2b6478" stroke-width="0.9"/>
<circle cx="864.5" cy="396.9" r="2.2" fill="#4f8799" stroke="#2b6478" stroke-width="0.9"/>
<circle cx="830.2" cy="437.8" r="2.2" fill="#4f8799" stroke="#2b6478" stroke-width="0.9"/>
<circle cx="864.5" cy="437.8" r="2.2" fill="#4f8799" stroke="#2b6478" stroke-width="0.9"/>
<circle cx="838.5" cy="442.5" r="2.2" fill="#4f8799" stroke="#2b6478" stroke-width="0.9"/>
<circle cx="856.2" cy="442.5" r="2.2" fill="#4f8799" stroke="#2b6478" stroke-width="0.9"/>
<path d="M839.3 385.8V381.4Q839.3 380.4 840.3 380.4H854.7Q855.7 380.4 855.7 381.4V385.8M844 380.4V385.8M851.3 380.4V385.8" stroke="#3a7688" stroke-width="0.8"/>
<path d="M836.4 388.4L838.4 385.8H859.4L861.4 388.4Z" fill="#7faebb" stroke="#2b6478" stroke-width="0.8"/>
<path d="M818.8 417.2H877.5" stroke="#3a7688" stroke-width="0.7" stroke-dasharray="8 2 2 2"/>
<path d="M847.7 379V453" stroke="#3a7688" stroke-width="0.7" stroke-dasharray="8 2 2 2"/>
<circle cx="847.7" cy="417.2" r="7" stroke="#3a7688" stroke-width="0.8" fill="#fff"/>
<circle cx="847.7" cy="417.2" r="3.8" stroke="#2b6478" stroke-width="1.3" fill="#5f95a6"/>
<circle cx="847.7" cy="417.2" r="1.2" fill="#cfe1e6" stroke="none"/>
<path d="M593.3 518.6H550.0Q548 518.6 548 520.6V564.9Q548 566.9 550.0 566.9H593.3Z" stroke="#3a7688" stroke-width="0.85"/>
<path d="M749.5 518.6H792.7Q794.7 518.6 794.7 520.6V564.9Q794.7 566.9 792.7 566.9H749.5Z" stroke="#3a7688" stroke-width="0.85"/>
<path d="M593.3 518.6L603 515.3H739.9L749.5 518.6M593.3 566.9L603 570.8H739.9L749.5 566.9" stroke="#3a7688" stroke-width="0.85"/>
<path d="M603 515.3V570.8M739.9 515.3V570.8" stroke="#3a7688" stroke-width="1.1"/>
<path d="M610.6 515.3V570.8M732.5 515.3V570.8" stroke="#3a7688" stroke-width="0.85"/>
<path d="M603 527.0H739.9" stroke="#3a7688" stroke-width="0.8"/>
<path d="M603 558.6H739.9" stroke="#3a7688" stroke-width="0.8"/>
<path d="M603.0 521.9H600.8Q596.5 522.1 593.5 525.2Q596.5 528.3 600.8 528.5H603.0" stroke="#3a7688" stroke-width="0.85"/>
<path d="M601.4 521.9V528.5M598.8 522.3V528.1" stroke="#3a7688" stroke-width="0.8"/>
<path d="M596.6 525.2H605.6" stroke="#3a7688" stroke-width="0.7"/>
<path d="M739.9 521.9H742.1Q746.4 522.1 749.4 525.2Q746.4 528.3 742.1 528.5H739.9" stroke="#3a7688" stroke-width="0.85"/>
<path d="M741.5 521.9V528.5M744.1 522.3V528.1" stroke="#3a7688" stroke-width="0.8"/>
<path d="M746.3 525.2H737.3" stroke="#3a7688" stroke-width="0.7"/>
<path d="M603.0 530.1H600.8Q596.5 530.3 593.5 533.4Q596.5 536.5 600.8 536.7H603.0" stroke="#3a7688" stroke-width="0.85"/>
<path d="M601.4 530.1V536.7M598.8 530.5V536.3" stroke="#3a7688" stroke-width="0.8"/>
<path d="M596.6 533.4H605.6" stroke="#3a7688" stroke-width="0.7"/>
<path d="M739.9 530.1H742.1Q746.4 530.3 749.4 533.4Q746.4 536.5 742.1 536.7H739.9" stroke="#3a7688" stroke-width="0.85"/>
<path d="M741.5 530.1V536.7M744.1 530.5V536.3" stroke="#3a7688" stroke-width="0.8"/>
<path d="M746.3 533.4H737.3" stroke="#3a7688" stroke-width="0.7"/>
<path d="M603.0 547.5H600.8Q596.5 547.7 593.5 550.8Q596.5 553.9 600.8 554.1H603.0" stroke="#3a7688" stroke-width="0.85"/>
<path d="M601.4 547.5V554.1M598.8 547.9V553.7" stroke="#3a7688" stroke-width="0.8"/>
<path d="M596.6 550.8H605.6" stroke="#3a7688" stroke-width="0.7"/>
<path d="M739.9 547.5H742.1Q746.4 547.7 749.4 550.8Q746.4 553.9 742.1 554.1H739.9" stroke="#3a7688" stroke-width="0.85"/>
<path d="M741.5 547.5V554.1M744.1 547.9V553.7" stroke="#3a7688" stroke-width="0.8"/>
<path d="M746.3 550.8H737.3" stroke="#3a7688" stroke-width="0.7"/>
<path d="M603.0 555.7H600.8Q596.5 555.9 593.5 559.0Q596.5 562.1 600.8 562.3H603.0" stroke="#3a7688" stroke-width="0.85"/>
<path d="M601.4 555.7V562.3M598.8 556.1V561.9" stroke="#3a7688" stroke-width="0.8"/>
<path d="M596.6 559.0H605.6" stroke="#3a7688" stroke-width="0.7"/>
<path d="M739.9 555.7H742.1Q746.4 555.9 749.4 559.0Q746.4 562.1 742.1 562.3H739.9" stroke="#3a7688" stroke-width="0.85"/>
<path d="M741.5 555.7V562.3M744.1 556.1V561.9" stroke="#3a7688" stroke-width="0.8"/>
<path d="M746.3 559.0H737.3" stroke="#3a7688" stroke-width="0.7"/>
<path d="M548 540.3H593.3V545.7H548ZM749.5 540.3H794.7V545.7H749.5Z" fill="#e4eef2" stroke="#8cb4c1" stroke-width="1.8"/>
<path d="M550.5 543.0H593M751.5 543.0H793" stroke="#4f8799" stroke-width="0.8" stroke-dasharray="4.6 2"/>
<path d="M539.0 543.0L546.8 539.3V546.7Z" fill="#9cc0cb" stroke="none"/>
<path d="M539.0 543.0L546.8 539.3V546.7Z" stroke="#3a7688" stroke-width="0.8"/>
<path d="M547.6 538.7V547.3" stroke="#2b6478" stroke-width="1.3"/>
<path d="M541.5 543.0L544.8 541.4V544.6Z" fill="#fff" stroke="none"/>
<path d="M803.7 543.0L795.9 539.3V546.7Z" fill="#9cc0cb" stroke="none"/>
<path d="M803.7 543.0L795.9 539.3V546.7Z" stroke="#3a7688" stroke-width="0.8"/>
<path d="M795.1 538.7V547.3" stroke="#2b6478" stroke-width="1.3"/>
<path d="M801.2 543.0L797.9 541.4V544.6Z" fill="#fff" stroke="none"/>
<path d="M593.3 539.1H655.3M593.3 546.7H655.3" stroke="#3a7688" stroke-width="0.9"/>
<path d="M548 539.1H593.3M548 546.7H593.3M749.5 539.1H794.7M749.5 546.7H794.7" stroke="#3a7688" stroke-width="0.8"/>
<path d="M532.5 539.1H548M532.5 546.7H548" stroke="#3a7688" stroke-width="0.8"/>
<path d="M594 543.0H749" stroke="#5d92a3" stroke-width="0.7"/>
<path d="M534.1 527.5V558.3" stroke="#3a7688" stroke-width="0.8"/>
<path d="M534.1 539.1L533.0 534.6L535.2 534.6Z" fill="#3a7688" stroke="none"/>
<path d="M534.1 546.7L535.2 551.2L533.0 551.2Z" fill="#3a7688" stroke="none"/>
<path d="M671.3 511.7V573.5" stroke="#3a7688" stroke-width="0.7" stroke-dasharray="8 2 2 2"/>
<path d="M667.3 551L669.6 562.6L671.3 564.4L673 562.6L675.3 551Z" fill="#9cc0cb" stroke="#2b6478" stroke-width="0.9"/>
<path d="M664.6 562H678.6" stroke="#2b6478" stroke-width="0.8"/>
<circle cx="671.3" cy="542" r="9.9" stroke="#3a7688" stroke-width="2.2" fill="#fff"/>
<circle cx="671.3" cy="542" r="8.3" stroke="#9cc0cb" stroke-width="1"/>
<path d="M668.6 533.6V552M674 533.6V552" stroke="#2b6478" stroke-width="0.9"/>
<circle cx="655.3" cy="538.8" r="1.1" fill="#2b6478" stroke="none"/>
<circle cx="655.3" cy="546.7" r="1.1" fill="#2b6478" stroke="none"/>
<circle cx="688.0" cy="538.8" r="1.1" fill="#2b6478" stroke="none"/>
<circle cx="688.0" cy="546.7" r="1.1" fill="#2b6478" stroke="none"/>
<path d="M655.3 547V588M687.6 547V588M655.3 585.7H687.5" stroke="#3a7688" stroke-width="0.8"/>
<path d="M655.3 585.7L660.5 584.4L660.5 587.0Z" fill="#3a7688" stroke="none"/>
<path d="M687.5 585.7L682.3 587.0L682.3 584.4Z" fill="#3a7688" stroke="none"/>
<path d="M688 546.7L699.1 585.7H733.2" stroke="#3a7688" stroke-width="0.8"/>
<g fill="#2b7090" stroke="none" font-size="14.2">
<text x="661.2" y="233.6" textLength="24.4" lengthAdjust="spacingAndGlyphs">Ø F</text>
<rect x="686" y="315.8" width="6.4" height="6" fill="none" stroke="#2b7090" stroke-width="0.8"/>
<text x="693.8" y="321.6" textLength="73" lengthAdjust="spacingAndGlyphs">G/T=Depth</text>
<text x="607.4" y="360.9">L1</text>
<text x="720" y="361">L2</text>
<text x="840.6" y="361.3">J</text>
<text transform="translate(532.5 394.3) rotate(-90)" textLength="20.4" lengthAdjust="spacing">H1</text>
<text transform="translate(522.5 422.6) rotate(-90)">H</text>
<text transform="translate(532.5 455.1) rotate(-90)" textLength="22.8" lengthAdjust="spacing">H 2</text>
<text x="657" y="464.9" textLength="21.6" lengthAdjust="spacingAndGlyphs">ØR</text>
<text transform="translate(529.1 548.2) rotate(-90)">P</text>
<text x="665.2" y="598.6">N</text>
<text x="703.6" y="584.1" textLength="49" lengthAdjust="spacingAndGlyphs">M5x7/9</text>
</g>
</svg>
</div>
<table><colgroup><col style="width:70px"><col style="width:80px"><col style="width:70px"><col style="width:46px"><col style="width:42px"><col style="width:38px"><col style="width:46px"><col style="width:48px"><col style="width:46px"><col style="width:46px"><col style="width:48px"><col style="width:42px"><col style="width:38px"><col style="width:42px"><col style="width:50px"><col style="width:76px"></colgroup><thead><tr class="r1"><th class="vl"></th><th colspan="14">Dimensions [mm]</th><th class="vr">Weight</th></tr><tr class="r2"><th class="vl">Typ</th><th>ØF</th><th>G</th><th>H</th><th>H1</th><th>H2</th><th>J</th><th>K</th><th>L</th><th>L1</th><th>L2</th><th>N</th><th>P</th><th>ØR</th><th>T</th><th class="vr">[kg]</th></tr></thead><tbody><tr><td class="vl">EB 5.1</td><td>F04/05</td><td>11/14</td><td>77</td><td>30</td><td>-</td><td>72</td><td>57</td><td>280</td><td>-</td><td>-</td><td>80</td><td>30</td><td>-</td><td>13/16</td><td class="vr">2,4</td></tr><tr><td class="vl">EB 6.1</td><td>F05/07</td><td>17</td><td>91</td><td>30</td><td>-</td><td>88</td><td>65</td><td>351</td><td>-</td><td>-</td><td>80</td><td>30</td><td>-</td><td>19</td><td class="vr">4,3</td></tr><tr><td class="vl">EB 8.1</td><td>F05/07</td><td>17</td><td>108</td><td>30</td><td>-</td><td>99</td><td>71</td><td>408</td><td>-</td><td>-</td><td>80</td><td>30</td><td>-</td><td>19</td><td class="vr">6,3</td></tr><tr><td class="vl">EB 10.1</td><td>F07/10</td><td>22</td><td>128</td><td>30</td><td>-</td><td>122</td><td>82</td><td>557</td><td>-</td><td>-</td><td>80</td><td>30</td><td>-</td><td>24</td><td class="vr">12,5</td></tr><tr><td class="vl">EB 12.1</td><td>F10/12</td><td>27</td><td>156</td><td>30</td><td>-</td><td>145</td><td>93</td><td>661</td><td>-</td><td>-</td><td>80</td><td>30</td><td>-</td><td>29</td><td class="vr">21,1</td></tr><tr><td class="vl">EB 265</td><td>F12/16</td><td>32/36</td><td>232</td><td>30</td><td>3</td><td>152</td><td>-</td><td>-</td><td>317</td><td>317</td><td>80</td><td>30</td><td>85</td><td>60</td><td class="vr">26,0</td></tr><tr><td class="vl">EB 270</td><td>F12/16/25*</td><td>32/36/46</td><td>278</td><td>30</td><td>4</td><td>220</td><td>-</td><td>-</td><td>145</td><td>510</td><td>130</td><td>30</td><td>100</td><td>60</td><td class="vr">45,0</td></tr><tr><td class="vl">EB 280</td><td>F12/16/25</td><td>32/36/46</td><td>278</td><td>30</td><td>5</td><td>220</td><td>-</td><td>-</td><td>510</td><td>510</td><td>130</td><td>30</td><td>130</td><td>60</td><td class="vr">68,0</td></tr></tbody></table>
<div class="note" style="left:72px">* flange connection F25 with intermediate flange</div>
<div class="note" style="right:63px">Subject to change without notice</div>
<div class="para" style="top:921.3px">The torques shown in the diagram are measured values. The<br>required size of the actuator can be established by comparing the<br>values of the actuator with the required torque of the valve.</div>
<div class="para" style="top:985.6px;line-height:15.7px">Especially non-lubricant media (e.g. bulk goods and dry gases)<br>may cause an increasement of the actuator torque. This is why we<br>recommend to consider a safety of 12%. Choosing an actuator in<br>critical limits, please contact our engineers.</div>
<div class="chart">
<svg width="404" height="298.5" viewBox="495 923 404 298.5" font-family="Liberation Sans, Arial, sans-serif">
<path d="M533.00 949.51H880.50M533.00 961.62H880.50M533.00 973.73H880.50M533.00 985.84H880.50M533.00 997.95H880.50M533.00 1010.06H880.50M533.00 1022.17H880.50M533.00 1034.28H880.50M533.00 1046.39H880.50M533.00 1058.50H880.50M533.00 1070.61H880.50M533.00 1082.72H880.50M533.00 1094.83H880.50M533.00 1106.94H880.50M533.00 1119.05H880.50M533.00 1131.16H880.50M533.00 1143.27H880.50M533.00 1155.38H880.50M533.00 1167.49H880.50M571.61 937.40V1179.60M610.22 937.40V1179.60M648.83 937.40V1179.60M687.44 937.40V1179.60M726.06 937.40V1179.60M764.67 937.40V1179.60M803.28 937.40V1179.60M841.89 937.40V1179.60" stroke="#4a4d55" stroke-width="0.72" fill="none"/>
<rect x="533.00" y="937.40" width="347.50" height="242.20" fill="none" stroke="#2e3035" stroke-width="1.3"/>
<g font-size="10" fill="#4a84a6" stroke="#4a84a6" stroke-width="0.12" text-anchor="middle"><text x="531.0" y="1193.2">0</text><text x="571.2" y="1193.2">10</text><text x="610.0" y="1193.2">20</text><text x="648.6" y="1193.2">30</text><text x="687.6" y="1193.2">40</text><text x="726.4" y="1193.2">50</text><text x="763.2" y="1193.2">60</text><text x="802.0" y="1193.2">70</text><text x="841.0" y="1193.2">80</text><text x="877.6" y="1193.2">90</text></g>
<text x="654" y="1212" font-size="13" fill="#2b6886"><tspan textLength="102.4" lengthAdjust="spacingAndGlyphs">Turning angle in °</tspan><tspan x="756.6" y="1213" font-family="DejaVu Sans, sans-serif" font-size="15.5">→</tspan></text>
<text transform="translate(518.2 1149.2) rotate(-90)" font-size="13" fill="#2b6886"><tspan textLength="129.4" lengthAdjust="spacingAndGlyphs">Effective torque in Nm</tspan><tspan x="134.4" y="1" font-family="DejaVu Sans, sans-serif" font-size="15.5">→</tspan></text>
<path d="M538.0 982.5C541.7 985.0 552.2 992.1 560.0 997.5C567.8 1002.9 576.6 1008.9 585.0 1014.6C593.4 1020.3 603.1 1026.9 610.6 1031.8C618.1 1036.7 623.4 1040.2 630.0 1044.0C636.6 1047.8 640.5 1050.7 650.0 1054.6C659.5 1058.5 674.3 1063.7 687.0 1067.5C699.7 1071.3 715.5 1075.0 726.0 1077.2C736.5 1079.4 742.7 1079.8 750.0 1080.4C757.3 1081.1 761.2 1081.6 770.0 1081.1C778.8 1080.6 792.2 1079.1 803.0 1077.4C813.8 1075.7 823.1 1073.8 835.0 1070.7C846.9 1067.6 867.8 1060.7 874.4 1058.7" fill="none" stroke="#70cc52" stroke-width="3.2" stroke-linecap="butt"/>
<path d="M533.0 1077.6C537.8 1079.3 552.5 1084.9 562.0 1088.0C571.5 1091.1 581.7 1094.0 590.0 1096.0C598.3 1098.0 605.0 1099.4 612.0 1100.3C619.0 1101.2 624.0 1101.5 632.0 1101.5C640.0 1101.5 650.3 1101.2 660.0 1100.2C669.7 1099.2 679.0 1097.9 690.0 1095.6C701.0 1093.3 713.6 1090.1 726.0 1086.4C738.4 1082.7 751.7 1078.7 764.5 1073.2C777.3 1067.7 790.0 1060.8 803.0 1053.5C816.0 1046.2 833.1 1035.7 842.6 1029.5C852.1 1023.4 854.1 1021.1 860.0 1016.6C865.9 1012.1 875.0 1004.9 878.0 1002.6" fill="none" stroke="#ea3330" stroke-width="3.8" stroke-linecap="butt"/>
<path d="M590.4 1018.2L578 1015.4L583 1007.8Z" fill="#70cc52"/>
<path d="M841.4 1069L830.6 1076.6L828.4 1067.8Z" fill="#70cc52"/>
<path d="M585.6 1094.7L598.6 1092.8L596.4 1102.4Z" fill="#ea3330"/>
<path d="M854.6 1021.1L867.6 1017.4L862 1009.8Z" fill="#ea3330"/>
<path d="M665.8 1041.4L653.7 1054.7M657.4 1101.4L671.1 1121.3" stroke="#2b6886" stroke-width="1" fill="none"/>
<g font-size="11" fill="#2b6886"><text x="671" y="1045" textLength="104" lengthAdjust="spacingAndGlyphs">Air moment opening</text><text x="672.2" y="1117.4" textLength="118" lengthAdjust="spacingAndGlyphs">Spring moment closing</text></g>
<path d="M671 1046.6H775M672.2 1119H790.2" stroke="#2b6886" stroke-width="0.9" fill="none"/>
</svg>
</div>
<div class="cap">Typical torque curve of a scotch-yoke actuator.</div>
</body></html>
